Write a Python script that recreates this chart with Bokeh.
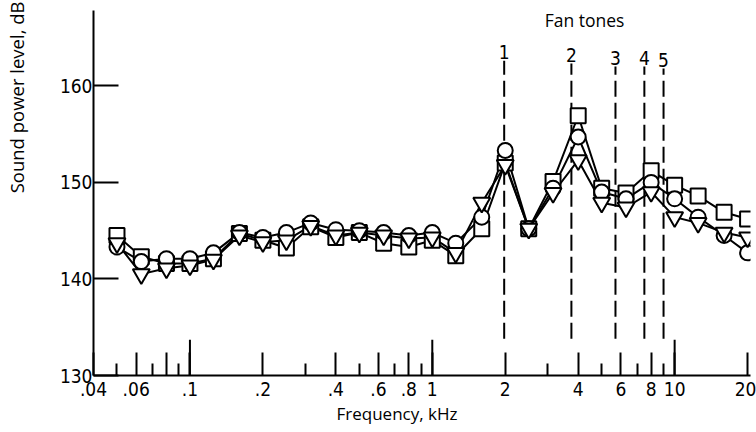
import math
from bokeh.plotting import figure
from bokeh.models import FixedTicker, Label, Title
from bokeh.core.properties import value
from bokeh.embed import file_html
from bokeh.resources import INLINE

# --- data (one-third octave band centre frequencies, kHz) ---
freq = [0.05, 0.063, 0.08, 0.1, 0.125, 0.16, 0.2, 0.25, 0.315, 0.4, 0.5, 0.63, 0.8,
        1.0, 1.25, 1.6, 2.0, 2.5, 3.15, 4.0, 5.0, 6.3, 8.0, 10.0, 12.5, 16.0, 20.0]
square_db = [144.5, 142.3, 141.6, 141.6, 142.1, 144.7, 144.0, 143.2, 145.4, 144.3, 144.8, 143.7, 143.3,
             144.0, 142.4, 145.2, 152.0, 145.2, 150.1, 156.9, 149.4, 148.9, 151.2, 149.7, 148.6, 146.9, 146.2]
circle_db = [143.3, 141.8, 142.1, 142.1, 142.7, 144.8, 144.3, 144.8, 145.8, 145.1, 145.0, 144.8, 144.5,
             144.8, 143.7, 146.4, 153.3, 145.2, 149.4, 154.7, 149.0, 148.3, 150.0, 148.3, 146.4, 144.5, 142.7]
triangle_db = [143.7, 140.5, 141.1, 141.4, 142.0, 144.5, 143.8, 144.0, 145.5, 144.5, 144.8, 144.5, 144.2,
               144.3, 142.7, 147.9, 151.8, 145.2, 148.9, 152.3, 147.9, 147.4, 149.0, 146.4, 145.8, 144.8, 144.3]

x_major = [0.04, 0.06, 0.08, 0.1, 0.2, 0.4, 0.6, 0.8, 1, 2, 4, 6, 8, 10, 20]
x_labels = [".04", ".06", "", ".1", ".2", ".4", ".6", ".8", "1", "2", "4", "6", "8", "10", "20"]
x_minor = [0.05, 0.07, 0.09, 0.3, 0.5, 0.7, 0.9, 3, 5, 7, 9]
x_decades = [0.1, 1, 10]
y_ticks = [130, 140, 150, 160]

tone_freq = [1.98, 3.75, 5.7, 7.5, 9.0]
tone_labels = ["1", "2", "3", "4", "5"]
tone_top = [162.6, 162.3, 162.0, 162.0, 161.8]
tone_bottom = 133.8

FONT = "Liberation Sans Narrow, DejaVu Sans Condensed, Roboto, sans-serif"
FONT2 = "Open Sans, sans-serif"

p = figure(width=756, height=432, x_axis_type="log",
           x_range=(0.04, 20.56), y_range=(130, 167.8),
           output_backend="svg", toolbar_location=None)
p.min_border = 0
p.min_border_left = 92
p.min_border_right = 6
p.min_border_top = 10
p.min_border_bottom = 57
p.outline_line_color = None
p.xgrid.grid_line_color = None
p.ygrid.grid_line_color = None
p.background_fill_color = "white"
p.border_fill_color = "white"

# x axis
xa = p.xaxis[0]
xa.ticker = FixedTicker(ticks=x_major, minor_ticks=x_minor)
xa.major_label_overrides = {t: l for t, l in zip(x_major, x_labels)}
xa.axis_line_width = 2
xa.axis_line_color = "black"
xa.major_tick_in = 23
xa.major_tick_out = 0
xa.minor_tick_in = 12
xa.minor_tick_out = 0
xa.major_tick_line_width = 2
xa.minor_tick_line_width = 2
xa.major_label_standoff = 6
xa.major_label_text_font = FONT
xa.major_label_text_font_size = "19px"
xa.major_label_text_color = "black"

# y axis
ya = p.yaxis[0]
ya.ticker = FixedTicker(ticks=y_ticks, minor_ticks=[])
ya.axis_line_width = 2
ya.axis_line_color = "black"
ya.major_tick_in = 25
ya.major_tick_out = 0
ya.major_tick_line_width = 2
ya.minor_tick_line_color = None
ya.major_label_standoff = 1
ya.major_label_text_font = FONT
ya.major_label_text_font_size = "19px"
ya.major_label_text_color = "black"

# long decade ticks
p.segment(x0=x_decades, x1=x_decades, y0=[130] * len(x_decades), y1=[133.7] * len(x_decades),
          line_color="black", line_width=2)

# fan tone lines
p.segment(x0=tone_freq, x1=tone_freq, y0=[tone_bottom] * len(tone_freq), y1=tone_top,
          line_color="black", line_width=2, line_dash="16 6")
p.text(x=tone_freq, y=[t + 0.9 for t in tone_top], text=tone_labels,
       text_font=value(FONT), text_font_size="19px", text_align="center",
       text_baseline="middle", text_color="black")

# series lines
for ys in (square_db, circle_db, triangle_db):
    p.line(freq, ys, line_color="black", line_width=2)

p.scatter(freq, square_db, marker="square", size=15, line_color="black", line_width=2, fill_color="white")
p.scatter(freq, circle_db, marker="circle", size=15, line_color="black", line_width=2, fill_color="white")
p.scatter(freq, triangle_db, marker="inverted_triangle", size=17, line_color="black", line_width=2,
          fill_color="white")

# texts
p.add_layout(Label(x=4.25, y=166.8, text="Fan tones", text_font=FONT2, text_font_size="17.5px",
                   text_align="center", text_baseline="middle", text_color="black"))
p.add_layout(Title(text="Frequency, kHz", align="left", offset=243, text_font=FONT2,
                   text_font_size="17px", text_font_style="normal", text_color="black",
                   standoff=2), "below")
# spacer between y axis and its title
p.add_layout(Title(text=" ", text_font_size="1px", standoff=24), "left")
p.add_layout(Title(text="Sound power level, dB", align="right", offset=-9, text_font=FONT2,
                   text_font_size="18.5px", text_font_style="normal", text_color="black",
                   standoff=2), "left")

open("out.html", "w").write(file_html(p, INLINE))
